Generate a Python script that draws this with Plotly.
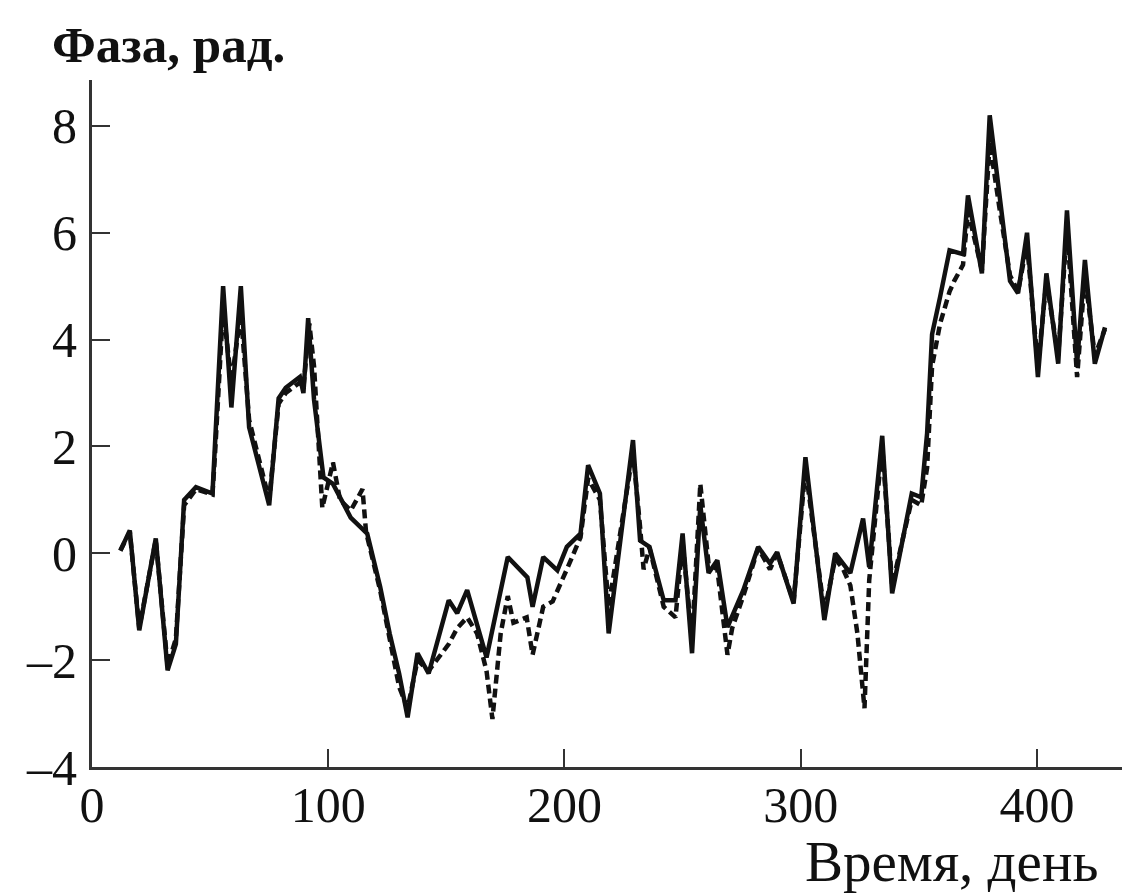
import plotly.graph_objects as go

# Measured phase (solid line)
days_solid = [12, 16, 20, 27, 32, 35.5, 39, 44, 51, 52, 55.5, 59, 63, 66.5, 75,
              79, 82, 88, 89.5, 91.5, 94, 98, 102, 109.5, 116.5, 122, 126, 130,
              133.6, 137.8, 142.5, 151, 154.6, 158.8, 167, 176, 184.3, 186.5, 191,
              197, 201, 206.8, 210, 215, 218.7, 229, 232, 236, 242, 247, 250, 254,
              257.5, 261, 264.7, 269, 275.7, 282, 287, 290, 297, 302, 310, 314.6,
              321, 326.4, 329, 334.5, 338.7, 347, 351, 353.5, 355.6, 359, 363,
              368.7, 370.8, 376.7, 380, 388.6, 392, 395.8, 400.4, 404, 409, 412.7,
              417, 420.3, 424.5, 428.8]
phase_solid = [0.05, 0.43, -1.44, 0.28, -2.19, -1.7, 1.0, 1.24, 1.12, 1.93, 5.0,
               2.73, 5.0, 2.36, 0.9, 2.9, 3.1, 3.3, 3.0, 4.4, 2.87, 1.42, 1.3, 0.67,
               0.37, -0.63, -1.5, -2.25, -3.07, -1.87, -2.25, -0.88, -1.12, -0.69,
               -1.95, -0.07, -0.45, -1.0, -0.07, -0.32, 0.12, 0.37, 1.65, 1.12, -1.5,
               2.12, 0.24, 0.12, -0.88, -0.88, 0.37, -1.87, 0.9, -0.37, -0.13, -1.38,
               -0.69, 0.12, -0.19, 0.02, -0.94, 1.8, -1.25, 0.0, -0.37, 0.65, -0.26,
               2.2, -0.75, 1.12, 1.05, 2.25, 4.1, 4.8, 5.67, 5.6, 6.7, 5.24, 8.2, 5.1,
               4.87, 6.0, 3.3, 5.24, 3.55, 6.42, 3.55, 5.49, 3.55, 4.23]

# Model phase (dashed line)
days_dashed = [12, 16, 20, 27, 32, 35.5, 39, 44, 51, 52, 55.5, 59, 63, 66.5, 75,
               79, 82, 88, 89.5, 92, 94, 97.5, 102, 105, 109.5, 114.5, 116, 122,
               126, 130, 133.6, 137.8, 142.5, 151, 154.6, 158.8, 163, 167, 169.5,
               173, 176, 178.4, 184, 186.5, 191, 195, 201, 206.8, 210, 215, 218.7,
               229, 232, 233.5, 236, 242, 247, 250, 254, 257.5, 261, 264.7, 269,
               271, 275.7, 282, 287, 290, 297, 302, 310, 314.6, 318, 321, 324, 327,
               329, 334.5, 338.7, 347, 351, 353.5, 355.6, 359, 363, 365, 368.7,
               370.8, 376.7, 380, 384, 388.6, 392, 395.8, 400.4, 404, 409, 412.7,
               417, 420.3, 424.5, 428.8]
phase_dashed = [0.05, 0.4, -1.4, 0.25, -2.1, -1.6, 0.9, 1.2, 1.1, 1.8, 4.6, 3.2,
                4.5, 2.5, 1.0, 2.8, 3.0, 3.2, 3.1, 4.3, 3.5, 0.85, 1.7, 1.0, 0.8,
                1.2, 0.4, -0.7, -1.6, -2.5, -2.9, -2.0, -2.2, -1.7, -1.4, -1.2,
                -1.5, -2.2, -3.1, -1.5, -0.8, -1.3, -1.2, -1.9, -1.0, -0.9, -0.3,
                0.3, 1.4, 1.0, -1.0, 1.9, 0.5, -0.3, 0.1, -1.0, -1.2, 0.2, -1.6, 1.3,
                -0.2, -0.3, -1.9, -1.4, -0.8, 0.1, -0.3, 0.0, -0.9, 1.6, -1.1, -0.1,
                -0.3, -0.6, -1.5, -2.9, -0.5, 2.0, -0.6, 1.0, 0.9, 1.6, 3.5, 4.3, 4.9,
                5.1, 5.4, 6.4, 5.3, 7.7, 6.5, 5.2, 4.9, 5.8, 3.5, 5.1, 3.7, 6.1, 3.3,
                5.2, 3.7, 4.2]

x_ticks = [0, 100, 200, 300, 400]
y_ticks = [-4, -2, 0, 2, 4, 6, 8]

SERIF = "Liberation Serif, Times New Roman, serif"
INK = "#111111"

fig = go.Figure()
fig.add_trace(go.Scatter(x=days_dashed, y=phase_dashed, mode="lines",
                         line=dict(color=INK, width=4.5, dash="9px,5px"),
                         showlegend=False))
fig.add_trace(go.Scatter(x=days_solid, y=phase_solid, mode="lines",
                         line=dict(color=INK, width=4.5),
                         showlegend=False))

axis_common = dict(
    showgrid=False, zeroline=False, showline=True,
    linecolor="#333333", linewidth=3,
    ticks="inside", ticklen=18, tickwidth=2, tickcolor="#333333",
    tickfont=dict(family=SERIF, size=50, color=INK),
)

fig.update_xaxes(range=[0, 436], tickvals=x_ticks,
                 ticktext=[str(v) for v in x_ticks],
                 ticklabelstandoff=-8, **axis_common)
fig.update_yaxes(range=[-4, 8.86], tickvals=y_ticks,
                 ticktext=[str(v) if v >= 0 else "\u2013" + str(-v) for v in y_ticks],
                 ticklabelstandoff=2, **axis_common)

fig.add_annotation(text="<b>Фаза, рад.</b>", xref="paper", yref="paper",
                   x=-0.041, y=1.051, xanchor="left", yanchor="middle",
                   showarrow=False, font=dict(family=SERIF, size=51, color=INK))
fig.add_annotation(text="Время, день", xref="paper", yref="paper",
                   x=0.979, y=-0.138, xanchor="right", yanchor="middle",
                   showarrow=False, font=dict(family=SERIF, size=57, color=INK))

fig.update_layout(
    width=1122, height=895,
    margin=dict(l=92, r=0, t=80, b=128),
    plot_bgcolor="white", paper_bgcolor="white",
)

fig.write_html("out.html")
